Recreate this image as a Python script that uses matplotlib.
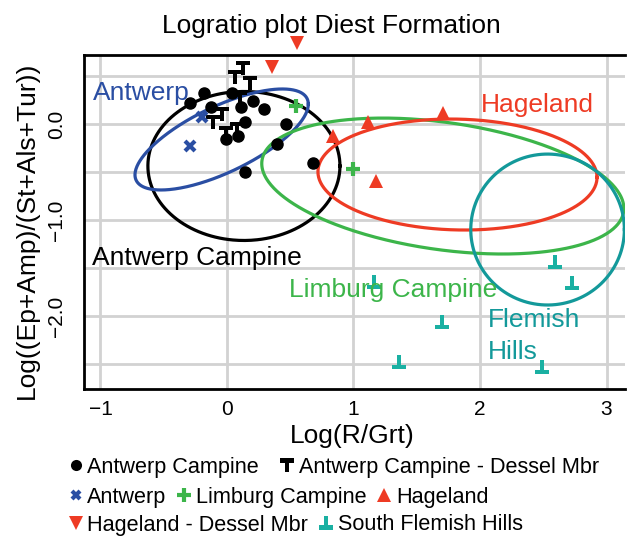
import numpy as np
import matplotlib
matplotlib.use("Agg")
import matplotlib.pyplot as plt
from matplotlib.path import Path
from matplotlib.lines import Line2D

plt.rcParams["font.family"] = ["Liberation Sans", "DejaVu Sans"]

# ---- sample groups: x = Log(R/Grt), y = Log((Ep+Amp)/(St+Als+Tur)) ----
antwerp_campine_x = [-0.182, -0.292, 0.040, -0.126, 0.111, 0.209, 0.292, 0.146,
                     0.470, 0.395, 0.089, -0.008, 0.680, 0.142]
antwerp_campine_y = [0.331, 0.222, 0.321, 0.180, 0.185, 0.248, 0.163, 0.019,
                     0.000, -0.202, -0.117, -0.155, -0.403, -0.500]

antwerp_dessel_x = [0.129, 0.063, 0.182, 0.103, -0.042, -0.108, 0.077, -0.008]
antwerp_dessel_y = [0.583, 0.496, 0.433, 0.271, 0.107, 0.027, -0.052, -0.091]

antwerp_x = [-0.194, -0.296]
antwerp_y = [0.079, -0.226]

limburg_x = [0.545, 0.998]
limburg_y = [0.190, -0.466]

hageland_x = [0.836, 1.117, 1.710, 1.178]
hageland_y = [-0.122, 0.027, 0.115, -0.591]

hageland_dessel_x = [0.551, 0.353]
hageland_dessel_y = [0.850, 0.600]

flemish_x = [2.593, 2.730, 2.493, 1.700, 1.360, 1.162]
flemish_y = [-1.434, -1.650, -2.525, -2.060, -2.475, -1.643]

# ---- group ellipses: centre, spread in x and y, correlation ----
ellipse_names = ["Antwerp Campine", "Antwerp", "Limburg Campine", "Hageland", "Flemish Hills"]
ellipse_cx = [0.134, -0.042, 1.706, 1.822, 2.534]
ellipse_cy = [-0.434, -0.158, -0.643, -0.523, -1.096]
ellipse_sx = [0.759, 0.685, 1.431, 1.103, 0.607]
ellipse_sy = [0.776, 0.526, 0.708, 0.578, 0.786]
ellipse_rho = [0.0, 0.70, -0.33, -0.05, 0.0]

BLACK = "#000000"
BLUE = "#2a4ea3"
GREEN = "#3cb54a"
RED = "#ee3b24"
TEAL = "#13999a"
TEAL_PT = "#1ab0a2"
ellipse_colors = [BLACK, BLUE, GREEN, RED, TEAL]

# T-shaped marker and its upside-down variant
t_verts = [(-1, 1), (1, 1), (1, 0.35), (0.28, 0.35), (0.28, -1),
           (-0.28, -1), (-0.28, 0.35), (-1, 0.35), (-1, 1)]
T_MARK = Path(t_verts, closed=True)
INV_T_MARK = Path([(x, -y) for x, y in t_verts], closed=True)

fig = plt.figure(figsize=(6.29, 5.43), dpi=100)
ax = fig.add_axes([84 / 629, 1 - 389 / 543, (625 - 84) / 629, (389 - 55) / 543])
ax.set_xlim(-1.13, 3.146)
ax.set_ylim(-2.757, 0.722)

ax.set_xticks([-1, 0, 1, 2, 3])
ax.set_xticklabels(["\u22121", "0", "1", "2", "3"])
ax.set_yticks([0.0, -1.0, -2.0])
ax.set_yticklabels(["0.0", "\u22121.0", "\u22122.0"], rotation=90, va="center")
ax.set_yticks([0.5, -0.5, -1.5, -2.5], minor=True)
ax.grid(True, which="both", color="#d2d2d2", lw=2.0, zorder=0)
ax.set_axisbelow(True)
ax.tick_params(which="both", length=0, labelsize=15)
ax.tick_params(axis="x", pad=8)
ax.tick_params(axis="y", pad=13)
for side in ["left", "bottom", "top"]:
    ax.spines[side].set_linewidth(2.0)
ax.spines["right"].set_visible(False)

# ellipses
t = np.linspace(0, 2 * np.pi, 400)
for cx, cy, sx, sy, r, c in zip(ellipse_cx, ellipse_cy, ellipse_sx, ellipse_sy,
                                ellipse_rho, ellipse_colors):
    ex = cx + sx * np.cos(t)
    ey = cy + sy * (r * np.cos(t) + np.sqrt(1 - r * r) * np.sin(t))
    ax.plot(ex, ey, color=c, lw=2.3, zorder=2)

# points
ax.plot(antwerp_campine_x, antwerp_campine_y, "o", color=BLACK, ms=8, zorder=3)
ax.plot(antwerp_dessel_x, antwerp_dessel_y, ls="none", marker=T_MARK, color=BLACK,
        ms=10.5, mew=0, zorder=3)
ax.plot(antwerp_x, antwerp_y, "x", color=BLUE, ms=7, mew=3, zorder=3)
ax.plot(limburg_x, limburg_y, "+", color=GREEN, ms=10, mew=3, zorder=3)
ax.plot(hageland_x, hageland_y, "^", color=RED, ms=10, mew=0, zorder=3)
ax.plot(hageland_dessel_x, hageland_dessel_y, "v", color=RED, ms=10, mew=0,
        zorder=3, clip_on=False)
ax.plot(flemish_x, flemish_y, ls="none", marker=INV_T_MARK, color=TEAL_PT,
        ms=10.5, mew=0, zorder=3)

# group names
lab_fs = 19
ax.text(-1.059, 0.253, "Antwerp", color=BLUE, fontsize=lab_fs, va="baseline")
ax.text(2.008, 0.131, "Hageland", color=RED, fontsize=lab_fs, va="baseline")
ax.text(-1.067, -1.466, "Antwerp Campine", color=BLACK, fontsize=lab_fs, va="baseline")
ax.text(0.490, -1.800, "Limburg Campine", color=GREEN, fontsize=lab_fs, va="baseline")
ax.text(2.063, -2.108, "Flemish", color=TEAL, fontsize=lab_fs, va="baseline")
ax.text(2.063, -2.448, "Hills", color=TEAL, fontsize=lab_fs, va="baseline")

fig.text(331 / 629, 1 - 26 / 543, "Logratio plot Diest Formation", fontsize=19,
         ha="center", va="center")
fig.text(352 / 629, 1 - 436 / 543, "Log(R/Grt)", fontsize=19, ha="center", va="center")
fig.text(27 / 629, 1 - 230 / 543, "Log((Ep+Amp)/(St+Als+Tur))", fontsize=19,
         ha="center", va="center", rotation=90)

# legend, three flowing rows
def h(marker, color, ms, mew=0):
    return Line2D([], [], ls="none", marker=marker, color=color, ms=ms, mew=mew)

rows = [
    [(h("o", BLACK, 8), "Antwerp Campine"),
     (h(T_MARK, BLACK, 10), "Antwerp Campine - Dessel Mbr")],
    [(h("x", BLUE, 6, 3), "Antwerp"),
     (h("+", GREEN, 10, 3), "Limburg Campine"),
     (h("^", RED, 10), "Hageland")],
    [(h("v", RED, 10), "Hageland - Dessel Mbr"),
     (h(INV_T_MARK, TEAL_PT, 10), "South Flemish Hills")],
]
row_y = [467, 497, 525]
row_gap = [1.0, 0.5, 0.5]
for row, yy, gap in zip(rows, row_y, row_gap):
    fig.legend([r[0] for r in row], [r[1] for r in row], loc="center left",
               bbox_to_anchor=(69 / 629, 1 - yy / 543), ncol=len(row),
               frameon=False, fontsize=15.6, handlelength=0.6, handletextpad=0.25,
               columnspacing=gap, borderpad=0, borderaxespad=0)

fig.savefig("out.png", dpi=100)
